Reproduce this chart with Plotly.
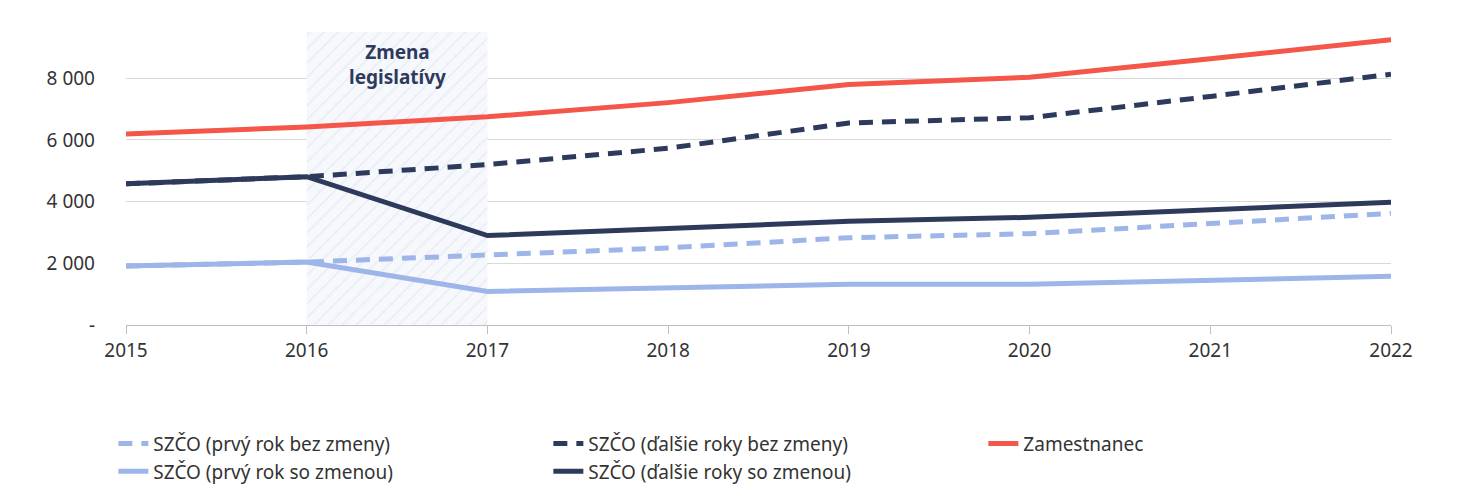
import plotly.graph_objects as go

years = [2015, 2016, 2017, 2018, 2019, 2020, 2021, 2022]
zamestnanec = [6190, 6420, 6750, 7210, 7800, 8030, 8630, 9250]
dalsie_bez = [4576, 4810, 5200, 5730, 6550, 6720, 7410, 8130]
dalsie_so = [4576, 4810, 2900, 3130, 3360, 3490, 3720, 3980]
prvy_bez = [1910, 2040, 2270, 2500, 2830, 2960, 3290, 3620]
prvy_so = [1910, 2040, 1090, 1220, 1320, 1320, 1450, 1580]
y_ticks = [0, 2000, 4000, 6000, 8000]
y_labels = ["-", "2 000", "4 000", "6 000", "8 000"]

navy = "#2E3A5C"
light = "#9DB5E8"
red = "#F4574A"
ymax = 9500

fig = go.Figure()
# shaded legislative change period
fig.add_trace(go.Scatter(
    x=[2016, 2017, 2017, 2016, 2016], y=[0, 0, ymax, ymax, 0],
    fill="toself", mode="none", showlegend=False, hoverinfo="skip",
    fillcolor="rgba(255,255,255,0)",
    fillpattern=dict(shape="/", fgcolor="#D6DEEE", bgcolor="#F6F8FC", size=10, solidity=0.15),
))

series = [
    ("SZČO (prvý rok bez zmeny)", prvy_bez, light, "14px,9px"),
    ("SZČO (ďalšie roky bez zmeny)", dalsie_bez, navy, "14px,9px"),
    ("Zamestnanec", zamestnanec, red, "solid"),
    ("SZČO (prvý rok so zmenou)", prvy_so, light, "solid"),
    ("SZČO (ďalšie roky so zmenou)", dalsie_so, navy, "solid"),
]
for name, vals, col, dash in series:
    fig.add_trace(go.Scatter(x=years, y=vals, name=name, mode="lines",
                             line=dict(color=col, width=5, dash=dash)))

fig.add_annotation(x=2016.5, y=ymax - 150, text="<b>Zmena<br>legislatívy</b>",
                   showarrow=False, yanchor="top",
                   font=dict(size=19, color=navy))

fig.update_layout(
    width=1478, height=499,
    margin=dict(l=118, r=95, t=24, b=182),
    plot_bgcolor="white", paper_bgcolor="white",
    font=dict(family="Noto Sans", size=19, color="#333333"),
    xaxis=dict(range=[2015, 2022], tickvals=years, showgrid=False,
               showline=True, linecolor="#BFBFBF", ticks="outside",
               ticklen=8, tickcolor="#BFBFBF", tickfont=dict(size=19)),
    yaxis=dict(range=[0, ymax], tickvals=y_ticks, ticktext=y_labels,
               gridcolor="#D9D9D9", zeroline=False, ticklabelstandoff=30,
               tickfont=dict(size=19)),
    legend=dict(orientation="h", x=-0.01, y=-0.34, xanchor="left", yanchor="top",
                entrywidth=390, font=dict(size=19, color="#333333"),
                tracegroupgap=0),
)

fig.write_html("out.html")
